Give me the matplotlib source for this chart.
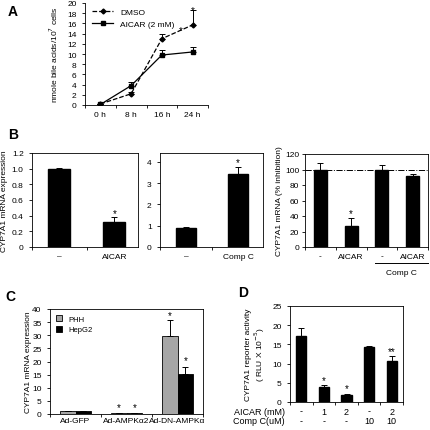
import matplotlib
matplotlib.use('Agg')
import matplotlib.pyplot as plt
import numpy as np

plt.rcParams['font.family'] = ['Liberation Sans', 'DejaVu Sans']
plt.rcParams['font.size'] = 6
plt.rcParams['axes.linewidth'] = 0.6
plt.rcParams['xtick.major.width'] = 0.6
plt.rcParams['ytick.major.width'] = 0.6
plt.rcParams['xtick.major.size'] = 2.5
plt.rcParams['ytick.major.size'] = 2.5
plt.rcParams['xtick.labelsize'] = 6
plt.rcParams['ytick.labelsize'] = 6
plt.rcParams['axes.labelsize'] = 6

# Panel A: bile acid synthesis time course
times = ['0 h', '8 h', '16 h', '24 h']
dmso = [0.2, 2.2, 13.0, 15.7]
dmso_err = [0.0, 0.3, 1.0, 3.0]
aicar = [0.1, 3.8, 9.8, 10.4]
aicar_err = [0.0, 0.7, 1.0, 1.0]

# Panel B
b1_labels = ['\u2013', 'AICAR']
b1_vals = [1.0, 0.32]
b1_err = [0.01, 0.06]
b2_labels = ['\u2013', 'Comp C']
b2_vals = [0.9, 3.45]
b2_err = [0.02, 0.3]
b3_labels = ['-', 'AICAR', '-', 'AICAR']
b3_vals = [100, 27, 100, 91]
b3_err = [8, 10, 6, 3]

# Panel C
c_groups = ['Ad-GFP', 'Ad-AMPK\u03b12', 'Ad-DN-AMPK\u03b1']
c_phh = [1.0, 0.2, 29.7]
c_phh_err = [0.0, 0.0, 6.0]
c_hepg2 = [1.0, 0.4, 15.2]
c_hepg2_err = [0.0, 0.0, 2.7]

# Panel D
d_vals = [17.2, 4.0, 1.8, 14.4, 10.8]
d_err = [2.0, 0.3, 0.4, 0.3, 1.2]
d_stars = ['', '*', '*', '', '**']
d_aicar = ['-', '1', '2', '-', '2']
d_compc = ['-', '-', '-', '10', '10']

W, H = 430, 431
fig = plt.figure(figsize=(W / 100, H / 100), dpi=100)


def ax_px(l, t, r, b):
    return fig.add_axes([l / W, 1 - b / H, (r - l) / W, (b - t) / H])


def up_err(ax, x, y, e):
    ax.errorbar(x, y, yerr=[np.zeros(len(e)), e], fmt='none', ecolor='black',
                elinewidth=0.7, capsize=2, capthick=0.7)


# ---- A ----
ax = ax_px(85, 4, 208, 106)
x = np.arange(len(times))
ax.plot(x, dmso, '--', color='black', lw=0.9, marker='D', ms=2.5, label='DMSO')
ax.plot(x, aicar, '-', color='black', lw=0.9, marker='s', ms=2.5, label='AICAR (2 mM)')
up_err(ax, x, dmso, dmso_err)
up_err(ax, x, aicar, aicar_err)
ax.text(2.6, 14.6, '*', ha='center', va='center', fontsize=7)
ax.text(3, 18.7, '*', ha='center', va='center', fontsize=7)
ax.set_xlim(-0.5, 3.5)
ax.set_ylim(0, 20)
ax.set_yticks(range(0, 21, 2))
ax.set_xticks(np.arange(-0.5, 4, 1))
ax.set_xticklabels([])
ax.set_xticks(x, minor=True)
ax.set_xticklabels(times, minor=True)
ax.tick_params(axis='x', which='minor', length=0, pad=4)
ax.spines['top'].set_visible(False)
ax.spines['right'].set_visible(False)
ax.set_ylabel('nmole bile acids/10$^7$ cells')
ax.yaxis.set_label_coords(-0.2, 0.5)
ax.legend(loc='upper left', frameon=False, fontsize=6, handlelength=2.5,
          bbox_to_anchor=(0.02, 1.0), borderaxespad=0.2)
fig.text(8 / W, 1 - 12 / H, 'A', fontsize=10, fontweight='bold', va='center')


def bar_panel(ax, labels, vals, errs, width):
    xs = np.arange(len(labels))
    ax.bar(xs, vals, width=width, color='black', edgecolor='black')
    up_err(ax, xs, vals, errs)
    ax.set_xticks(np.arange(-0.5, len(labels), 1))
    ax.set_xticklabels([])
    ax.set_xticks(xs, minor=True)
    ax.set_xticklabels(labels, minor=True)
    ax.tick_params(axis='x', which='minor', length=0, pad=4)
    return xs


# ---- B ----
fig.text(8 / W, 1 - 135 / H, 'B', fontsize=10, fontweight='bold', va='center')
ax = ax_px(32, 154, 138, 248)
bar_panel(ax, b1_labels, b1_vals, b1_err, 0.4)
ax.set_xlim(-0.5, 1.43)
ax.set_ylim(0, 1.2)
ax.set_yticks([0, 0.2, 0.4, 0.6, 0.8, 1.0, 1.2])
ax.set_yticklabels(['0', '0.2', '0.4', '0.6', '0.8', '1.0', '1.2'])
ax.text(1, 0.43, '*', ha='center', va='center', fontsize=7)
ax.set_ylabel('CYP7A1 mRNA expression')
ax.yaxis.set_label_coords(-0.23, 0.5)

ax = ax_px(160, 154, 263, 248)
bar_panel(ax, b2_labels, b2_vals, b2_err, 0.4)
ax.set_xlim(-0.5, 1.48)
ax.set_ylim(0, 4.42)
ax.set_yticks([0, 1, 2, 3, 4])
ax.text(1, 4.0, '*', ha='center', va='center', fontsize=7)

ax = ax_px(305, 155, 428, 248)
bar_panel(ax, b3_labels, b3_vals, b3_err, 0.42)
ax.set_xlim(-0.5, 3.5)
ax.set_ylim(0, 120)
ax.set_yticks(range(0, 121, 20))
ax.tick_params(axis='y', pad=1.5)
ax.axhline(100, color='black', lw=0.7, ls='-.', zorder=0)
ax.text(1, 44, '*', ha='center', va='center', fontsize=7)
ax.set_ylabel('CYP7A1 mRNA (% inhibition)')
ax.yaxis.set_label_coords(-0.18, 0.5)
ax.plot([1.77, 3.5], [-0.17, -0.17], color='black', lw=0.7,
        transform=ax.get_xaxis_transform(), clip_on=False)
ax.text(2.65, -0.27, 'Comp C', ha='center', va='center', fontsize=6,
        transform=ax.get_xaxis_transform())

# ---- C ----
fig.text(5 / W, 1 - 297 / H, 'C', fontsize=10, fontweight='bold', va='center')
ax = ax_px(50, 310, 203, 415)
xs = np.arange(len(c_groups))
bw = 0.31
ax.bar(xs - bw / 2, c_phh, width=bw, color='#a6a6a6', edgecolor='black', lw=0.6, label='PHH')
ax.bar(xs + bw / 2, c_hepg2, width=bw, color='black', edgecolor='black', lw=0.6, label='HepG2')
up_err(ax, xs - bw / 2, c_phh, c_phh_err)
up_err(ax, xs + bw / 2, c_hepg2, c_hepg2_err)
for xi, yi in [(1 - bw / 2, 2.8), (1 + bw / 2, 2.8), (2 - bw / 2, 37.5), (2 + bw / 2, 20.5)]:
    ax.text(xi, yi, '*', ha='center', va='center', fontsize=7)
ax.set_xlim(-0.5, 2.5)
ax.set_ylim(0, 40)
ax.set_yticks(range(0, 41, 5))
ax.set_xticks(np.arange(-0.5, 3, 1))
ax.set_xticklabels([])
ax.set_xticks(xs, minor=True)
ax.set_xticklabels(c_groups, minor=True, fontsize=6)
ax.tick_params(axis='x', which='minor', length=0, pad=2)
ax.set_ylabel('CYP7A1 mRNA expression')
ax.yaxis.set_label_coords(-0.12, 0.5)
ax.legend(loc='upper left', frameon=False, fontsize=5.5, handlelength=0.8,
          handleheight=0.8, borderaxespad=0.4, labelspacing=0.4)

# ---- D ----
fig.text(238 / W, 1 - 293 / H, 'D', fontsize=10, fontweight='bold', va='center')
ax = ax_px(290, 307, 403, 403)
dx = np.arange(len(d_vals))
ax.bar(dx, d_vals, width=0.45, color='black', edgecolor='black')
up_err(ax, dx, d_vals, d_err)
for xi, (v, e, s) in enumerate(zip(d_vals, d_err, d_stars)):
    if s:
        ax.text(xi, v + e + 1.3, s, ha='center', va='center', fontsize=7)
ax.set_xlim(-0.5, 4.5)
ax.set_ylim(0, 25)
ax.set_yticks(range(0, 26, 5))
ax.set_xticks(np.arange(-0.5, 5, 1))
ax.set_xticklabels([])
ax.set_ylabel('CYP7A1 reporter activity\n( RLU X 10$^{-5}$)', linespacing=1.1)
ax.yaxis.set_label_coords(-0.2, 0.5)
tr = ax.get_xaxis_transform()
ax.text(-0.72, -0.094, 'AICAR (mM)', ha='right', va='center', fontsize=6.5, transform=tr)
ax.text(-0.72, -0.19, 'Comp C(uM)', ha='right', va='center', fontsize=6.5, transform=tr)
for xi in dx:
    ax.text(xi, -0.094, d_aicar[xi], ha='center', va='center', fontsize=6.5, transform=tr)
    ax.text(xi, -0.19, d_compc[xi], ha='center', va='center', fontsize=6.5, transform=tr)

fig.savefig('out.png', dpi=100)
